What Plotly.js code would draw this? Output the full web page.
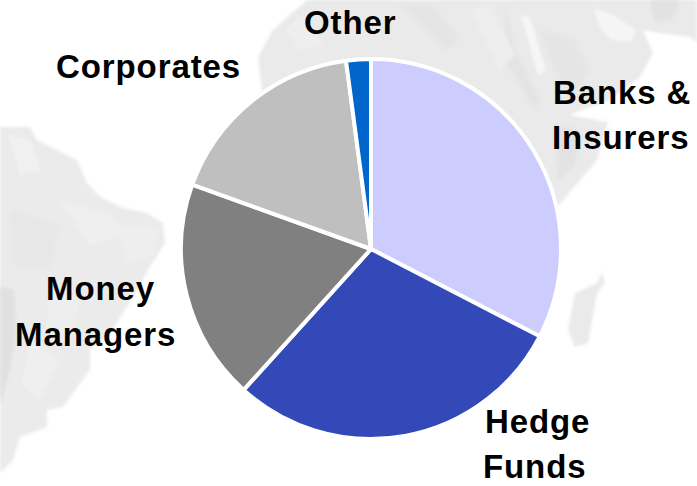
<!DOCTYPE html>
<html><head><meta charset="utf-8">
<script src="https://cdn.plot.ly/plotly-3.0.1.min.js"></script>
<style>html,body{margin:0;padding:0;background:#fff}
.annotation-text{letter-spacing:.9px}
.shapelayer path{filter:blur(1.6px)}
</style></head>
<body><div id="c" style="width:697px;height:486px"></div>
<script>
const categories=["Banks & Insurers","Hedge Funds","Money Managers","Corporates","Other"];
const shares=[32.6,29.1,18.8,17.4,2.1];
const colors=["#CCCCFF","#3349B8","#808080","#BFBFBF","#0066CC"];
const labelLines=[["Banks &",622,93],["Insurers",620,137],["Hedge",537,421],["Funds",534,466],["Money",100,288],["Managers",95,334],["Corporates",148,67],["Other",351,23]];
const W=697,H=486;
const land=[
["M307,0 L273,30 L258,57 L262,92 L300,200 L520,220 L559,205 L597,160 L608,122 L570,115 L577,112 L610,100 L640,77 L653,53 L643,30 L660,33 L690,37 L697,43 L697,0 Z","#EAEAEA"],
["M0,127 L30,127 L37,140 L77,160 L87,183 L100,197 L123,208 L147,213 L163,223 L165,243 L150,267 L133,297 L110,333 L90,350 L90,370 L63,407 L47,410 L47,427 L20,437 L13,460 L0,473 Z","#EBEBEB"],
["M602,272 L605,283 L597,293 L588,343 L575,347 L568,330 L575,293 L597,283 Z","#EAEAEA"],
["M0,287 L14,290 L16,330 L10,370 L0,405 Z","#E0E0E0"],
["M521,15 L530,18 L546,70 L538,76 Z","#F6F6F6"],
["M594,8 L612,14 L636,30 L632,42 L612,40 L600,28 Z","#F5F5F5"],
["M650,0 L680,0 L672,20 L655,22 Z","#E2E2E2"],
["M540,30 L575,40 L590,70 L570,100 L555,70 Z","#E5E5E5"],
["M505,5 L515,50 L540,100 L535,110 L505,60 Z","#E4E4E4"],
["M285,30 L300,15 L325,45 L300,50 Z","#EEEEEE"],
["M400,5 L430,3 L460,40 L445,50 Z","#E5E5E5"],
["M470,10 L490,5 L515,55 L500,70 Z","#EEEEEE"],
["M555,125 L580,130 L575,165 L558,180 Z","#E3E3E3"],
["M8,135 L30,140 L42,170 L20,175 Z","#F0F0F0"],
["M60,200 L110,215 L130,235 L90,245 Z","#EFEFEF"],
["M120,225 L160,228 L155,255 L125,265 Z","#EEEEEE"],
["M10,210 L60,225 L50,270 L12,265 Z","#E7E7E7"],
["M30,340 L60,360 L40,400 L22,385 Z","#EFEFEF"],
["M50,290 L80,300 L70,345 L45,335 Z","#EEEEEE"]
];
const toPaper=p=>p.replace(/(-?\d+),(-?\d+)/g,(m,x,y)=>(x/W).toFixed(4)+","+(1-y/H).toFixed(4));
const shapes=land.map(([p,c])=>({type:"path",path:toPaper(p),xref:"paper",yref:"paper",fillcolor:c,line:{width:0},layer:"below"}));
const annotations=labelLines.map(([t,x,y])=>({text:t,x:x/W,y:1-y/H,xref:"paper",yref:"paper",xanchor:"center",yanchor:"middle",showarrow:false,
 font:{family:"Liberation Sans, Arial, sans-serif",size:33,color:"#000",weight:700}}));
Plotly.newPlot("c",[{type:"pie",labels:categories,values:shares,sort:false,direction:"clockwise",rotation:0,
 marker:{colors:colors,line:{color:"#fff",width:4}},textinfo:"none",hoverinfo:"label+percent",
 domain:{x:[181/W,561/W],y:[1-440/H,1-58/H]}}],
 {width:W,height:H,margin:{l:0,r:0,t:0,b:0},showlegend:false,paper_bgcolor:"rgba(0,0,0,0)",plot_bgcolor:"rgba(0,0,0,0)",shapes,annotations},
 {displayModeBar:false,staticPlot:true});
</script></body></html>
